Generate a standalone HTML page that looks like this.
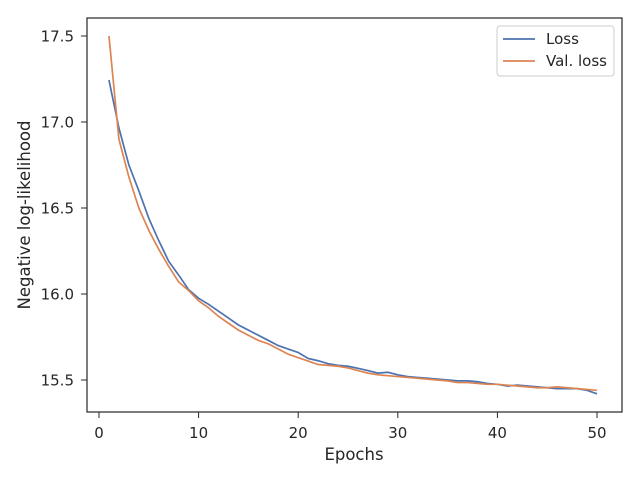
<!DOCTYPE html>
<html><head><meta charset="utf-8"><style>
body{margin:0;background:#fff;}
svg text{font-family:"DejaVu Sans","Liberation Sans",sans-serif;fill:#262626;}
</style></head><body>
<svg id="chart" width="640" height="480" xmlns="http://www.w3.org/2000/svg">
<rect x="0" y="0" width="640" height="480" fill="#fff"/>
<g id="ticks"></g>
<g id="lines"></g>
<rect x="87" y="18" width="535" height="394" fill="none" stroke="#262626" stroke-width="1.2"/>
<text x="354" y="460" font-size="16.5" text-anchor="middle">Epochs</text>
<text transform="translate(30,215) rotate(-90)" font-size="16.5" text-anchor="middle">Negative log-likelihood</text>
<g>
<rect x="497" y="26" width="117" height="50" rx="3" fill="#fff" stroke="#ccc"/>
<line x1="503" y1="39" x2="535" y2="39" stroke="#4c72b0" stroke-width="1.8"/>
<text x="546" y="44" font-size="15">Loss</text>
<line x1="503" y1="61" x2="535" y2="61" stroke="#dd8452" stroke-width="1.8"/>
<text x="546" y="66" font-size="15">Val. loss</text>
</g>
</svg>
<script>
const epochs=[];for(let i=1;i<=50;i++)epochs.push(i);
const loss=[17.244,16.965,16.75,16.6,16.44,16.31,16.19,16.11,16.025,15.975,15.94,15.9,15.86,15.82,15.79,15.76,15.73,15.7,15.68,15.66,15.625,15.612,15.595,15.585,15.58,15.568,15.555,15.54,15.545,15.53,15.52,15.515,15.51,15.505,15.5,15.495,15.495,15.49,15.48,15.475,15.465,15.47,15.465,15.46,15.455,15.45,15.45,15.45,15.44,15.42];
const valLoss=[17.5,16.9,16.68,16.5,16.37,16.26,16.16,16.07,16.02,15.96,15.92,15.87,15.83,15.79,15.76,15.73,15.71,15.68,15.65,15.63,15.61,15.59,15.585,15.58,15.57,15.555,15.54,15.53,15.525,15.52,15.515,15.51,15.505,15.5,15.495,15.485,15.485,15.48,15.475,15.475,15.47,15.465,15.46,15.455,15.455,15.46,15.455,15.45,15.445,15.44];
const xTicks=[0,10,20,30,40,50];
const yTicks=[15.5,16.0,16.5,17.0,17.5];
const X=v=>99+v*9.96;
const Y=v=>380-(v-15.5)*172;
const NS="http://www.w3.org/2000/svg";
const tg=document.getElementById('ticks'),lg=document.getElementById('lines');
xTicks.forEach(t=>{
 const l=document.createElementNS(NS,'line');
 l.setAttribute('x1',X(t));l.setAttribute('x2',X(t));l.setAttribute('y1',412);l.setAttribute('y2',418);l.setAttribute('stroke','#262626');
 
 
 tg.appendChild(l);
 const tx=document.createElementNS(NS,'text');
 tx.setAttribute('x',X(t));tx.setAttribute('y',438);tx.setAttribute('font-size','15');tx.setAttribute('text-anchor','middle');tx.textContent=t;
 
 
 tg.appendChild(tx);
});
yTicks.forEach(t=>{
 const l=document.createElementNS(NS,'line');
 l.setAttribute('x1',81);l.setAttribute('x2',87);l.setAttribute('y1',Y(t));l.setAttribute('y2',Y(t));l.setAttribute('stroke','#262626');
 
 
 tg.appendChild(l);
 const tx=document.createElementNS(NS,'text');
 tx.setAttribute('x',74);tx.setAttribute('y',Y(t)+5.5);tx.setAttribute('font-size','15');tx.setAttribute('text-anchor','end');tx.textContent=t.toFixed(1);
 
 
 tg.appendChild(tx);
});
function draw(arr,color,name){
 const p=document.createElementNS(NS,'polyline');
 p.setAttribute('points',arr.map((v,i)=>X(epochs[i])+','+Y(v)).join(' '));
 p.setAttribute('fill','none');p.setAttribute('stroke',color);p.setAttribute('stroke-width','1.7');
 
 
 lg.appendChild(p);
}
draw(loss,'#4c72b0','loss-line');
draw(valLoss,'#dd8452','val-loss-line');
</script>
</body></html>
